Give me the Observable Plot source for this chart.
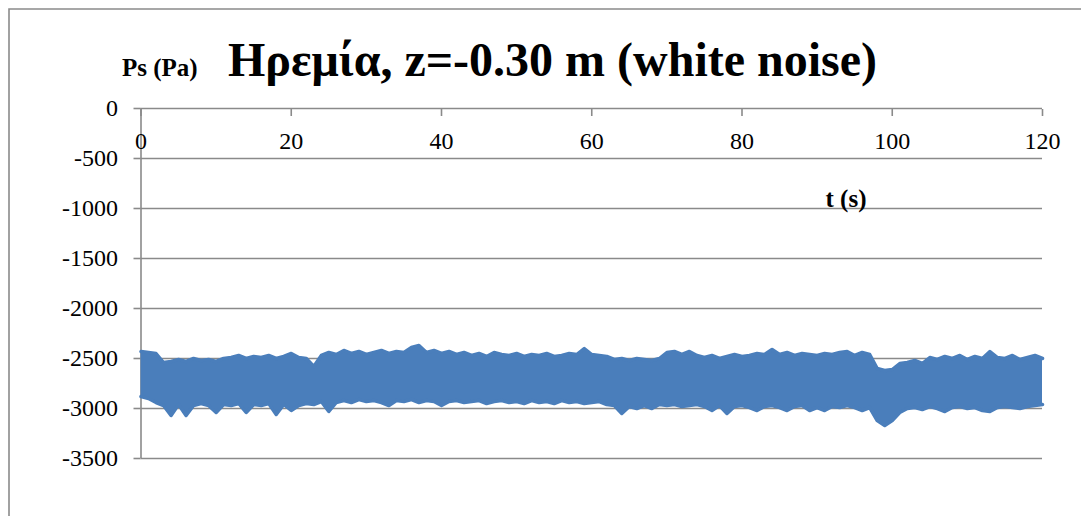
<!DOCTYPE html>
<html><head><meta charset="utf-8">
<script src="https://cdn.jsdelivr.net/npm/d3@7"></script>
<script src="https://cdn.jsdelivr.net/npm/@observablehq/plot@0.6"></script>
<style>
html,body{margin:0;padding:0;background:#fff;overflow:hidden;}
#wrap{position:relative;width:1081px;height:516px;}
</style></head><body><div id="wrap"></div>
<script>
// ---- data ----
const titleText = "Ηρεμία, z=-0.30 m (white noise)";
const yLabel = "Ps (Pa)";
const xLabel = "t (s)";
const xTicks = [0, 20, 40, 60, 80, 100, 120];
const yTicks = [0, -500, -1000, -1500, -2000, -2500, -3000, -3500];
// time in seconds (1 s resolution of the envelope)
const tSec = d3.range(0, 121);
// upper envelope of the pressure signal (Pa)
const hiPa = [
-2430,-2440,-2450,-2540,-2530,-2510,-2530,-2500,-2520,-2510,
-2530,-2500,-2490,-2470,-2500,-2480,-2490,-2470,-2500,-2480,
-2450,-2490,-2500,-2580,-2470,-2440,-2460,-2420,-2450,-2430,
-2460,-2440,-2420,-2450,-2430,-2440,-2390,-2370,-2440,-2420,
-2450,-2430,-2460,-2440,-2470,-2450,-2480,-2440,-2460,-2470,
-2450,-2480,-2460,-2470,-2450,-2480,-2470,-2450,-2460,-2400,
-2460,-2470,-2480,-2510,-2500,-2520,-2500,-2510,-2520,-2500,
-2440,-2430,-2460,-2430,-2470,-2490,-2470,-2500,-2480,-2460,
-2480,-2470,-2450,-2460,-2410,-2460,-2440,-2470,-2450,-2460,
-2470,-2450,-2460,-2440,-2430,-2470,-2440,-2460,-2600,-2620,
-2610,-2550,-2540,-2520,-2550,-2490,-2510,-2480,-2500,-2470,
-2510,-2480,-2500,-2430,-2490,-2500,-2470,-2510,-2490,-2470,
-2500];
// lower envelope of the pressure signal (Pa)
const loPa = [
-2880,-2900,-2940,-2970,-3070,-2960,-3070,-2970,-2950,-2970,
-3040,-2960,-2970,-2950,-3040,-2960,-2970,-2950,-3060,-2960,
-3020,-2970,-2950,-2960,-2930,-3030,-2940,-2920,-2940,-2910,
-2930,-2920,-2940,-2970,-2920,-2930,-2910,-2940,-2920,-2930,
-2970,-2930,-2920,-2940,-2930,-2920,-2950,-2930,-2920,-2940,
-2930,-2950,-2920,-2940,-2930,-2950,-2920,-2940,-2930,-2950,
-2940,-2930,-2960,-2970,-3050,-2980,-3000,-2970,-3000,-2960,
-2970,-2960,-2980,-2970,-2960,-2980,-3020,-2970,-3050,-2980,
-2970,-2990,-3020,-2980,-2970,-2990,-3020,-2980,-2970,-3020,
-2990,-3020,-2980,-2990,-2970,-2990,-3020,-2990,-3120,-3170,
-3120,-3040,-3000,-2990,-3010,-2980,-3000,-3030,-2990,-2980,
-3000,-2990,-3020,-3030,-2990,-2980,-2990,-3000,-2980,-2970,
-2960];

const series = tSec.map((t, i) => ({t, hi: hiPa[i], lo: loPa[i]}));

const blue = "#4a7ebb";
const gridColor = "#8a8a8a";
const serif = "'Liberation Serif','Times New Roman',serif";

const chart = Plot.plot({
  width: 1081, height: 516,
  marginLeft: 140.5, marginRight: 39, marginTop: 108, marginBottom: 58,
  style: {fontFamily: serif, fontSize: "24px", color: "#000", background: "transparent", overflow: "visible"},
  x: {domain: [0, 120], axis: null},
  y: {domain: [-3500, 0], axis: null},
  marks: [
    Plot.ruleY(yTicks, {stroke: gridColor, strokeWidth: 1.6}),
    Plot.ruleX([0], {stroke: gridColor, strokeWidth: 1.6}),
    Plot.axisY(yTicks, {tickSize: 7, tickPadding: 16, stroke: gridColor, strokeWidth: 1.6,
      fontSize: 24, tickFormat: d => String(d), label: null}),
    Plot.axisX(xTicks, {anchor: "top", tickSize: 7, dy: 7, text: null, label: null, stroke: gridColor, strokeWidth: 1.6}),
    Plot.text(xTicks, {x: d => d, frameAnchor: "top", lineAnchor: "middle", dy: 33, text: d => String(d), fontSize: 24, fill: "#000"}),
    Plot.areaY(series, {x: "t", y1: "lo", y2: "hi", fill: blue}),
    Plot.line(series, {x: "t", y: "hi", stroke: blue, strokeWidth: 3.5, strokeLinejoin: "round", strokeLinecap: "round"}),
    Plot.line(series, {x: "t", y: "lo", stroke: blue, strokeWidth: 3.5, strokeLinejoin: "round", strokeLinecap: "round"})
  ]
});

const svg = d3.select(chart);
// outer chart frame (left and top edges visible)
svg.append("path").attr("d", "M9,530V9H1090").attr("fill", "none")
  .attr("stroke", gridColor).attr("stroke-width", 1.6);
svg.append("text").attr("x", 122).attr("y", 76).attr("text-anchor", "start")
  .attr("font-family", serif).attr("font-weight", "bold").attr("font-size", 25)
  .attr("fill", "#000").text(yLabel);
svg.append("text").attr("x", 228).attr("y", 76).attr("text-anchor", "start")
  .attr("font-family", serif).attr("font-weight", "bold").attr("font-size", 48)
  .attr("fill", "#000").text(titleText);
svg.append("text").attr("x", 846).attr("y", 207).attr("text-anchor", "middle")
  .attr("font-family", serif).attr("font-weight", "bold").attr("font-size", 25)
  .attr("fill", "#000").text(xLabel);

document.getElementById("wrap").appendChild(chart);
</script>
</body></html>
